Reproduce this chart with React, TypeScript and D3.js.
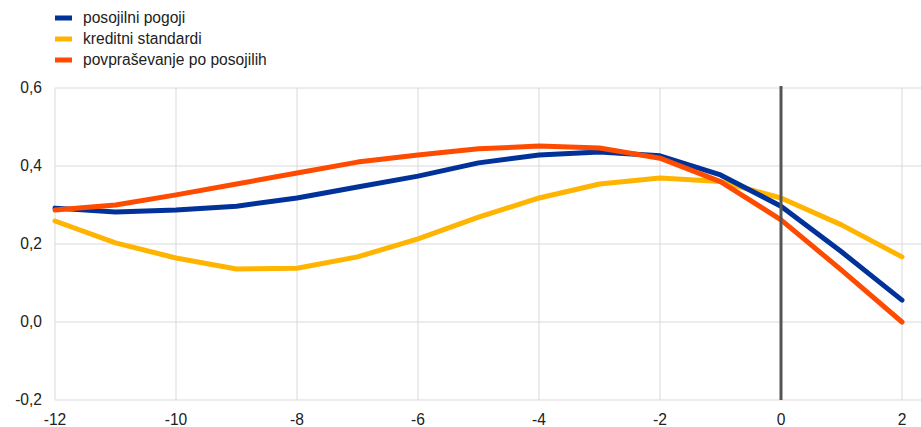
import React from "react";
import * as d3 from "d3";

const xValues = [-12, -11, -10, -9, -8, -7, -6, -5, -4, -3, -2, -1, 0, 1, 2];
const posojilniPogoji = [0.292, 0.282, 0.287, 0.297, 0.318, 0.346, 0.374, 0.408, 0.428, 0.436, 0.426, 0.377, 0.297, 0.18, 0.056];
const kreditniStandardi = [0.259, 0.203, 0.164, 0.136, 0.138, 0.167, 0.213, 0.269, 0.318, 0.354, 0.369, 0.36, 0.318, 0.249, 0.167];
const povprasevanje = [0.287, 0.3, 0.326, 0.354, 0.382, 0.41, 0.428, 0.444, 0.451, 0.446, 0.42, 0.36, 0.262, 0.133, 0.0];
const xTicks = [-12, -10, -8, -6, -4, -2, 0, 2];
const yTicks = [-0.2, 0, 0.2, 0.4, 0.6];

const series = [
  { name: "posojilni pogoji", values: posojilniPogoji, color: "#003299" },
  { name: "kreditni standardi", values: kreditniStandardi, color: "#FFB400" },
  { name: "povpraševanje po posojilih", values: povprasevanje, color: "#FF4B00" },
];
const drawOrder = [1, 0, 2];

export default function App() {
  const W = 921, H = 427;
  const x = d3.scaleLinear().domain([-12, 2]).range([55, 902]);
  const y = d3.scaleLinear().domain([-0.2, 0.6]).range([400, 88]);
  const line = d3.line<number>().x((_, i) => x(xValues[i])).y((d) => y(d));
  const font = "'Liberation Sans', Arial, sans-serif";
  const fmt = (v: number) => v.toFixed(1).replace(".", ",");
  const fs = 15.6;
  return (
    <svg width={W} height={H} style={{ position: "absolute", left: 0, top: 0 }} fontFamily={font}>
      <rect width={W} height={H} fill="white" />
      {yTicks.map((t) => (
        <line key={"h" + t} x1={55} x2={W} y1={y(t)} y2={y(t)} stroke="#d9d9d9" strokeWidth={1} />
      ))}
      {xTicks.map((t) => (
        <line key={"v" + t} x1={x(t)} x2={x(t)} y1={88} y2={400} stroke="#d9d9d9" strokeWidth={1} />
      ))}
      {yTicks.map((t) => (
        <text key={"yl" + t} x={42} y={y(t)} dy="0.35em" textAnchor="end" fontSize={fs} fill="#222">
          {fmt(t)}
        </text>
      ))}
      {xTicks.map((t) => (
        <text key={"xl" + t} x={x(t)} y={420} dy="0.35em" textAnchor="middle" fontSize={fs} fill="#222">
          {t}
        </text>
      ))}
      {drawOrder.map((i) => (
        <path key={series[i].name} d={line(series[i].values) || ""} fill="none" stroke={series[i].color} strokeWidth={5} strokeLinejoin="round" strokeLinecap="round" />
      ))}
      <line x1={x(0)} x2={x(0)} y1={86} y2={400} stroke="#555" strokeWidth={3} />
      {series.map((s, i) => (
        <g key={"lg" + i} transform={`translate(55, ${18 + i * 21})`}>
          <rect x={0} y={-2.5} width={17} height={5} fill={s.color} />
          <text x={28} y={0} dy="0.35em" fontSize={fs} fill="#222">{s.name}</text>
        </g>
      ))}
    </svg>
  );
}
